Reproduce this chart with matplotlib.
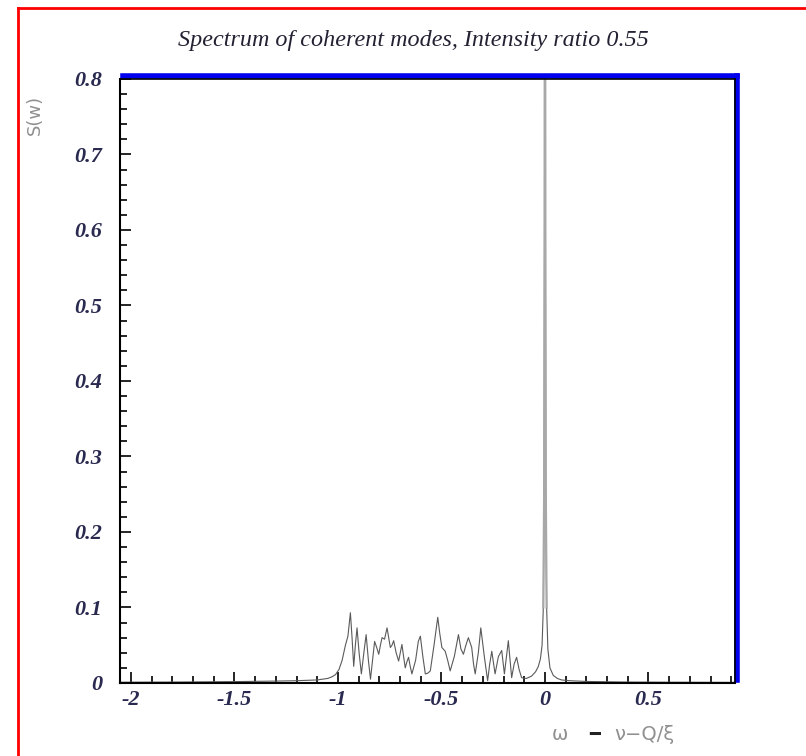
import matplotlib.pyplot as plt
from matplotlib.lines import Line2D
from matplotlib.ticker import MultipleLocator, FuncFormatter
import matplotlib.transforms as mtransforms

# spectrum of the coherent modes, read point by point
omega = [-2.05, -1.8, -1.5, -1.3, -1.2, -1.1, -1.05, -1.03, -1.012, -0.995,
         -0.98, -0.964, -0.952, -0.94, -0.932, -0.924, -0.916, -0.908, -0.898, -0.887,
         -0.875, -0.864, -0.853, -0.843, -0.833, -0.823, -0.813, -0.803, -0.795, -0.787,
         -0.775, -0.763, -0.755, -0.747, -0.739, -0.731, -0.719, -0.707, -0.699, -0.691,
         -0.683, -0.675, -0.667, -0.659, -0.651, -0.643, -0.625, -0.612, -0.602, -0.59,
         -0.578, -0.566, -0.554, -0.536, -0.518, -0.508, -0.498, -0.482, -0.47, -0.458,
         -0.438, -0.418, -0.406, -0.394, -0.382, -0.370, -0.354, -0.345, -0.337, -0.322,
         -0.310, -0.293, -0.277, -0.267, -0.257, -0.241, -0.225, -0.209, -0.196, -0.186,
         -0.177, -0.161, -0.149, -0.137, -0.125, -0.113, -0.09, -0.065, -0.045, -0.032,
         -0.022, -0.014, -0.008, -0.004, -0.002, 0.0, 0.002, 0.004, 0.008, 0.014,
         0.024, 0.04, 0.06, 0.08, 0.12, 0.2, 0.4, 0.6, 0.92]
spectrum = [0.001, 0.0012, 0.0018, 0.0025, 0.003, 0.004, 0.006, 0.008, 0.011, 0.018,
            0.03, 0.05, 0.062, 0.093, 0.06, 0.022, 0.05, 0.073, 0.04, 0.012,
            0.04, 0.064, 0.03, 0.005, 0.03, 0.055, 0.047, 0.038, 0.05, 0.06,
            0.058, 0.073, 0.06, 0.047, 0.05, 0.056, 0.04, 0.029, 0.04, 0.051,
            0.035, 0.02, 0.028, 0.034, 0.022, 0.012, 0.03, 0.055, 0.062, 0.035,
            0.012, 0.013, 0.016, 0.05, 0.087, 0.065, 0.047, 0.042, 0.03, 0.016,
            0.035, 0.064, 0.045, 0.038, 0.05, 0.06, 0.047, 0.025, 0.012, 0.04,
            0.073, 0.035, 0.003, 0.025, 0.042, 0.012, 0.035, 0.043, 0.012, 0.035,
            0.056, 0.007, 0.025, 0.034, 0.018, 0.007, 0.006, 0.009, 0.015, 0.022,
            0.032, 0.05, 0.1, 0.25, 0.6, 1.2, 0.6, 0.25, 0.1, 0.045,
            0.02, 0.01, 0.006, 0.004, 0.003, 0.002, 0.0012, 0.001, 0.0008]

title = "Spectrum of coherent modes, Intensity ratio 0.55"
tick_color = "#2a2a50"

fig = plt.figure(figsize=(8.06, 7.56), dpi=100)
ax = fig.add_axes([0.1489, 0.0966, 0.763, 0.799])

ax.plot(omega, spectrum, color="#5a5a5a", linewidth=0.8)
# the central line shows up lighter and a bit wider
ax.plot(omega[92:99], spectrum[92:99], color="#a8a8a8", linewidth=1.6)

ax.set_xlim(-2.053, 0.918)
ax.set_ylim(0, 0.8)

ax.xaxis.set_major_locator(MultipleLocator(0.5))
ax.xaxis.set_minor_locator(MultipleLocator(0.1))
ax.yaxis.set_major_locator(MultipleLocator(0.1))
ax.yaxis.set_minor_locator(MultipleLocator(0.02))


def fmt(v, pos):
    if abs(v) < 1e-9:
        return "0"
    return f"{v:g}"


ax.xaxis.set_major_formatter(FuncFormatter(fmt))
ax.yaxis.set_major_formatter(FuncFormatter(fmt))

ax.tick_params(which="both", direction="in", top=False, right=False,
               color="black", width=1.2)
ax.tick_params(which="major", length=8)
ax.tick_params(which="minor", length=5)
ax.tick_params(axis="x", which="major", pad=5)
ax.tick_params(axis="y", which="major", pad=13)
for lab in ax.get_xticklabels() + ax.get_yticklabels():
    lab.set_fontfamily("Liberation Serif")
    lab.set_fontstyle("italic")
    lab.set_fontweight("bold")
    lab.set_fontsize(16)
    lab.set_color(tick_color)

for side in ["left", "bottom"]:
    ax.spines[side].set_linewidth(1.5)
    ax.spines[side].set_color("black")
for side in ["top", "right"]:
    ax.spines[side].set_linewidth(1.2)
    ax.spines[side].set_color("black")

# thick blue frame along the top and right edges
off = mtransforms.offset_copy(ax.transAxes, fig=fig, x=2.5, y=2.5, units="dots")
ax.add_line(Line2D([0, 1], [1, 1], transform=off, color="#0000ee",
                   linewidth=4, clip_on=False, solid_capstyle="projecting"))
ax.add_line(Line2D([1, 1], [0, 1], transform=off, color="#0000ee",
                   linewidth=4, clip_on=False, solid_capstyle="projecting"))

fig.text(0.513, 0.947, title, ha="center", va="center",
         fontfamily="Liberation Serif", fontstyle="italic", fontsize=17.4,
         color="#222233")
fig.text(0.043, 0.848, "S(w)", rotation=90, ha="center", va="center",
         fontsize=13, color="#909090")
fig.text(0.695, 0.028, "ω", ha="center", va="center",
         fontsize=14, color="#909090")
fig.text(0.738, 0.028, "━", ha="center", va="center",
         fontsize=13, color="#222222")
fig.text(0.8, 0.028, "ν−Q/ξ", ha="center", va="center",
         fontsize=14, color="#909090")

# red page frame
fig.add_artist(Line2D([0.0223, 0.0223], [0, 0.9894], transform=fig.transFigure,
                      color="red", linewidth=2))
fig.add_artist(Line2D([0.0223, 1], [0.9894, 0.9894], transform=fig.transFigure,
                      color="red", linewidth=2))

fig.savefig("out.png", dpi=100)
